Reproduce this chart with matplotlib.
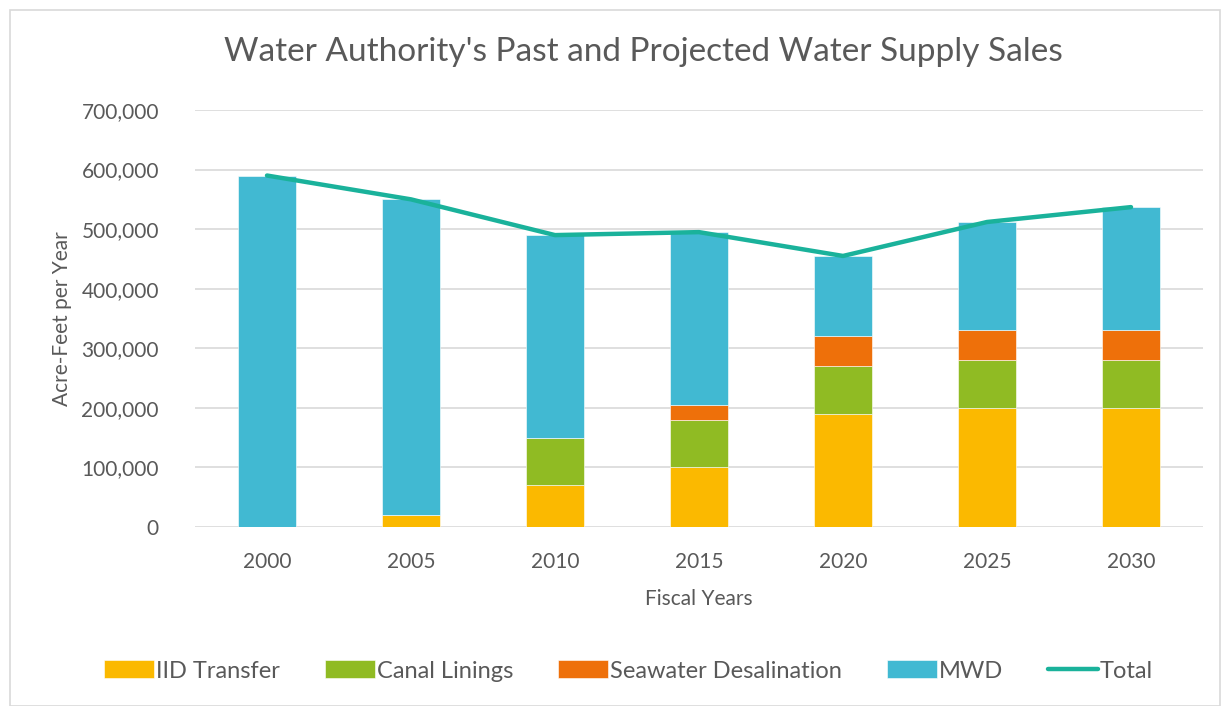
import numpy as np
import matplotlib.pyplot as plt
from matplotlib.ticker import FuncFormatter
from matplotlib.patches import Rectangle

plt.rcParams['font.family'] = ['Lato', 'DejaVu Sans']

years = ['2000', '2005', '2010', '2015', '2020', '2025', '2030']
iid = [0, 20000, 70000, 100000, 190000, 200000, 200000]
canal = [0, 0, 80000, 80000, 80000, 80000, 80000]
seawater = [0, 0, 0, 25000, 50000, 50000, 50000]
mwd = [590000, 530000, 340000, 290000, 135000, 182000, 207000]
total = [590000, 550000, 490000, 495000, 455000, 512000, 537000]

colors = ['#fbb900', '#90bb23', '#ee700a', '#41b9d2']
line_color = '#1ab29b'
text_color = '#595959'

fig = plt.figure(figsize=(12.21, 7.06), dpi=100)
ax = fig.add_axes([195 / 1221, 1 - 527 / 706, 1008 / 1221, 417 / 706])

x = np.arange(len(years))
bottom = np.zeros(len(years))
series = [('IID Transfer', iid), ('Canal Linings', canal),
          ('Seawater Desalination', seawater), ('MWD', mwd)]
for (name, vals), c in zip(series, colors):
    ax.bar(x, vals, 0.4, bottom=bottom, color=c, label=name, zorder=2,
           edgecolor='white', linewidth=0.4)
    bottom += np.array(vals)

ax.plot(x, total, color=line_color, lw=3.2, label='Total', zorder=3,
        solid_capstyle='round')

ax.set_xlim(-0.5, len(years) - 0.5)
ax.set_ylim(0, 700000)
ax.set_yticks(np.arange(0, 700001, 100000))
ax.yaxis.set_major_formatter(FuncFormatter(lambda v, p: f'{int(v):,}'))
ax.set_xticks(x)
ax.set_xticklabels(years)
ax.grid(axis='y', color='#d9d9d9', lw=1.2, zorder=0)
for s in ax.spines.values():
    s.set_visible(False)
ax.tick_params(length=0, colors=text_color, labelsize=15)
ax.tick_params(axis='y', pad=26)
ax.tick_params(axis='x', pad=18)

ax.set_xlabel('Fiscal Years', color=text_color, fontsize=15, labelpad=12)
ax.set_ylabel('Acre-Feet per Year', color=text_color, fontsize=15)
ax.yaxis.set_label_coords(-0.122, 0.5)

fig.text(0.527, 1 - 52 / 706, "Water Authority's Past and Projected Water Supply Sales",
         ha='center', va='center', fontsize=24, color=text_color)

handles, labels = ax.get_legend_handles_labels()
handles = handles[1:] + handles[:1]
labels = labels[1:] + labels[:1]
leg = fig.legend(handles, labels, loc='center', bbox_to_anchor=(0.515, 1 - 671 / 706),
                 ncol=5, frameon=False, fontsize=17, handlelength=2.1, handleheight=0.8,
                 handletextpad=0.1, columnspacing=1.9, labelcolor=text_color)

fig.patches.append(Rectangle((10 / 1221, 0), 1210 / 1221, 1 - 10 / 706,
                             transform=fig.transFigure, fill=False,
                             edgecolor='#d9d9d9', lw=1.2))

fig.savefig('out.png', dpi=100)
